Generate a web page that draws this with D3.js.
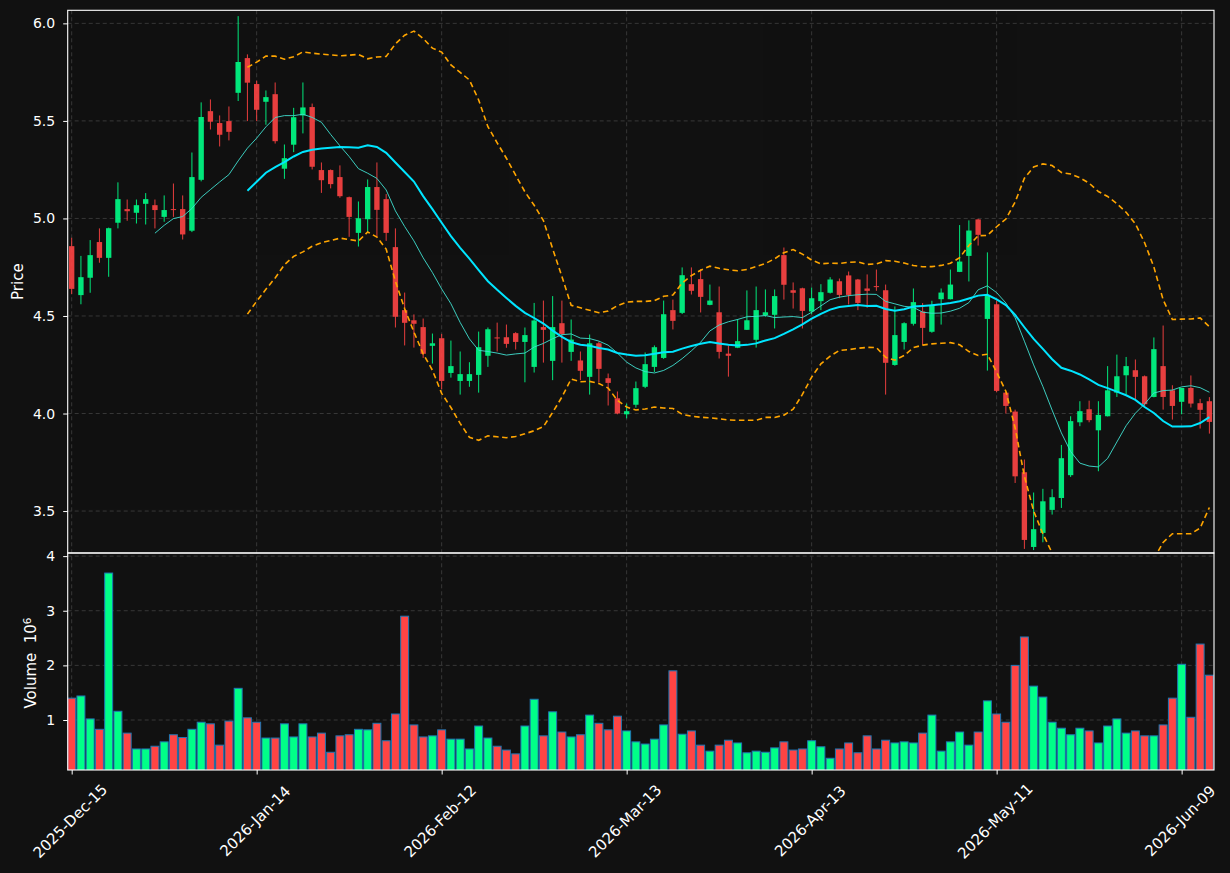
<!DOCTYPE html>
<html>
<head>
<meta charset="utf-8">
<script src="https://cdn.jsdelivr.net/npm/d3@7"></script>
<style>
html, body { margin: 0; padding: 0; background: #111111; }
svg text { font-family: "DejaVu Sans", sans-serif; fill: #ffffff; }
</style>
</head>
<body>
<div id="chart"></div>
<script>
// daily OHLC (trading days 2025-12-15 .. 2026-06-12)
var opens = [4.858,4.607,4.696,4.879,4.798,4.978,5.048,5.029,5.075,5.068,
  5.008,5.048,5.048,4.937,5.198,5.550,5.489,5.499,5.644,5.822,
  5.689,5.598,5.637,5.255,5.378,5.528,5.571,5.248,5.248,5.212,
  5.109,4.926,4.996,5.161,5.099,4.853,4.530,4.478,4.443,4.347,
  4.386,4.208,4.167,4.167,4.198,4.296,4.390,4.391,4.412,4.367,
  4.239,4.443,4.270,4.463,4.316,4.272,4.188,4.360,4.181,4.078,
  3.996,4.045,4.137,4.239,4.285,4.530,4.516,4.663,4.689,4.557,
  4.519,4.307,4.337,4.429,4.378,4.504,4.506,4.812,4.632,4.642,
  4.523,4.576,4.619,4.678,4.708,4.687,4.641,4.653,4.632,4.249,
  4.367,4.460,4.523,4.419,4.586,4.586,4.726,4.808,4.995,4.485,
  4.560,4.107,4.010,3.699,3.316,3.388,3.506,3.567,3.684,3.955,
  4.022,3.914,3.986,4.107,4.196,4.222,4.191,4.085,4.243,4.119,
  4.060,4.131,4.053,4.063];
var highs = [4.901,4.808,4.889,4.949,4.953,5.185,5.097,5.097,5.130,5.097,
  5.118,5.179,5.118,5.338,5.595,5.610,5.528,5.574,6.037,5.841,
  5.706,5.656,5.697,5.379,5.567,5.697,5.589,5.287,5.251,5.272,
  5.112,5.087,5.200,5.287,5.125,4.949,4.620,4.508,4.487,4.410,
  4.408,4.374,4.318,4.263,4.420,4.441,4.466,4.456,4.417,4.441,
  4.567,4.579,4.602,4.579,4.482,4.318,4.405,4.369,4.205,4.113,
  4.051,4.164,4.313,4.349,4.579,4.584,4.749,4.749,4.740,4.661,
  4.651,4.349,4.484,4.631,4.651,4.636,4.636,4.851,4.672,4.645,
  4.646,4.663,4.699,4.692,4.728,4.690,4.713,4.738,4.661,4.549,
  4.468,4.641,4.566,4.578,4.641,4.738,4.966,4.990,4.998,4.826,
  4.578,4.110,4.020,3.764,3.595,3.614,3.612,3.839,3.986,4.063,
  4.066,4.063,4.243,4.302,4.290,4.277,4.195,4.390,4.451,4.145,
  4.132,4.195,4.075,4.084];
var lows = [4.612,4.560,4.619,4.773,4.701,4.949,4.988,4.974,4.969,4.949,
  4.983,5.008,4.892,4.930,5.190,5.456,5.369,5.400,5.602,5.499,
  5.499,5.480,5.384,5.203,5.340,5.436,5.251,5.131,5.154,5.106,
  4.906,4.856,4.931,4.906,4.885,4.441,4.349,4.338,4.285,4.256,
  4.125,4.184,4.097,4.137,4.107,4.239,4.318,4.337,4.328,4.160,
  4.210,4.261,4.171,4.261,4.270,4.171,4.097,4.160,4.041,3.996,
  3.975,4.030,4.130,4.213,4.280,4.431,4.510,4.610,4.518,4.555,
  4.282,4.189,4.335,4.428,4.338,4.496,4.436,4.584,4.538,4.436,
  4.509,4.530,4.615,4.591,4.559,4.530,4.542,4.629,4.097,4.245,
  4.328,4.451,4.352,4.414,4.456,4.585,4.725,4.677,4.861,4.220,
  4.109,4.000,3.644,3.306,3.300,3.340,3.482,3.516,3.675,3.935,
  3.955,3.704,3.985,4.085,4.099,4.072,4.037,4.083,4.020,3.969,
  3.996,4.031,3.923,3.897];
var closes = [4.639,4.699,4.812,4.798,4.950,5.099,5.037,5.068,5.099,5.043,
  5.043,5.043,4.918,5.212,5.520,5.496,5.429,5.444,5.802,5.696,
  5.557,5.622,5.396,5.309,5.519,5.569,5.265,5.196,5.176,5.114,
  5.008,5.001,5.161,5.044,4.926,4.496,4.465,4.460,4.306,4.360,
  4.167,4.243,4.202,4.202,4.340,4.432,4.386,4.357,4.367,4.402,
  4.477,4.429,4.443,4.408,4.379,4.219,4.360,4.229,4.157,4.000,
  4.012,4.130,4.253,4.340,4.509,4.475,4.709,4.629,4.598,4.579,
  4.316,4.296,4.371,4.478,4.530,4.519,4.602,4.660,4.619,4.526,
  4.591,4.622,4.687,4.608,4.608,4.567,4.629,4.649,4.260,4.402,
  4.463,4.571,4.439,4.552,4.620,4.661,4.779,4.938,4.916,4.607,
  4.116,4.039,3.678,3.352,3.407,3.550,3.571,3.771,3.961,4.012,
  3.966,3.993,4.119,4.191,4.243,4.188,4.048,4.330,4.085,4.039,
  4.131,4.051,4.019,3.957];
// volume in millions
var volumes = [1.40,1.44,1.02,0.83,3.69,1.16,0.76,0.47,0.47,0.52,
  0.60,0.73,0.68,0.83,0.96,0.93,0.54,0.98,1.58,1.04,
  0.96,0.67,0.67,0.93,0.69,0.93,0.69,0.76,0.41,0.71,
  0.73,0.83,0.82,0.94,0.62,1.11,2.90,0.91,0.69,0.71,
  0.82,0.65,0.65,0.47,0.89,0.67,0.52,0.45,0.38,0.89,
  1.38,0.71,1.15,0.78,0.69,0.73,1.09,0.94,0.82,1.07,
  0.80,0.60,0.56,0.65,0.91,1.90,0.74,0.80,0.54,0.43,
  0.54,0.63,0.58,0.40,0.43,0.41,0.49,0.60,0.45,0.47,
  0.62,0.51,0.30,0.47,0.58,0.40,0.71,0.47,0.63,0.58,
  0.60,0.58,0.76,1.09,0.43,0.60,0.78,0.54,0.78,1.35,
  1.11,0.96,2.00,2.52,1.62,1.42,0.96,0.85,0.73,0.85,
  0.80,0.58,0.89,1.02,0.76,0.80,0.71,0.71,0.91,1.40,
  2.02,1.05,2.39,1.82];

var tickIdx = [0, 20, 40, 60, 80, 100, 120];
var tickLabels = ['2025-Dec-15', '2026-Jan-14', '2026-Feb-12', '2026-Mar-13',
  '2026-Apr-13', '2026-May-11', '2026-Jun-09'];
var priceTicks = [3.5, 4.0, 4.5, 5.0, 5.5, 6.0];
var volTicks = [1, 2, 3, 4];

var upColor = '#00ff88', downColor = '#ff4444';
var gridColor = '#3c3c3c';

var width = 1230, height = 873;
var left = 67.7, right = 1214;
var priceTop = 10.3, priceBottom = 553, volBottom = 770;

var svg = d3.select('#chart')
  .append('svg')
  .attr('width', width)
  .attr('height', height)
  .style('display', 'block')
  .style('background', '#111111');

var x = d3.scaleLinear().domain([-0.43, 123.5]).range([left, right]);
var y = d3.scaleLinear().domain([3.285, 6.067]).range([priceBottom, priceTop]);
var yv = d3.scaleLinear().domain([0.085, 4.057]).range([volBottom, priceBottom]);
var step = x(1) - x(0);

var defs = svg.append('defs');
defs.append('clipPath').attr('id', 'clipPrice')
  .append('rect')
  .attr('x', left).attr('y', priceTop)
  .attr('width', right - left).attr('height', priceBottom - priceTop);
defs.append('clipPath').attr('id', 'clipVol')
  .append('rect')
  .attr('x', left).attr('y', priceBottom)
  .attr('width', right - left).attr('height', volBottom - priceBottom);

// grids
var grid = svg.append('g')
  .attr('stroke', gridColor)
  .attr('stroke-width', 0.9)
  .attr('stroke-dasharray', '4,3')
  .attr('fill', 'none');
grid.selectAll('.hp').data(priceTicks).enter().append('line')
  .attr('x1', left).attr('x2', right)
  .attr('y1', function(d) { return y(d); })
  .attr('y2', function(d) { return y(d); });
grid.selectAll('.hv').data(volTicks).enter().append('line')
  .attr('x1', left).attr('x2', right)
  .attr('y1', function(d) { return yv(d); })
  .attr('y2', function(d) { return yv(d); });
grid.selectAll('.vx').data(tickIdx).enter().append('line')
  .attr('x1', function(d) { return x(d); })
  .attr('x2', function(d) { return x(d); })
  .attr('y1', priceTop).attr('y2', volBottom);

var idx = d3.range(closes.length);
function isUp(i) { return closes[i] >= opens[i]; }

// volume bars
svg.append('g')
  .attr('clip-path', 'url(#clipVol)')
  .selectAll('rect')
  .data(idx)
  .enter().append('rect')
  .attr('x', function(i) { return x(i) - step * 0.43; })
  .attr('y', function(i) { return yv(volumes[i]); })
  .attr('width', step * 0.86)
  .attr('height', function(i) { return yv(0) - yv(volumes[i]); })
  .attr('fill', function(i) { return isUp(i) ? upColor : downColor; })
  .attr('stroke', '#1f77b4')
  .attr('stroke-width', 1);

// candles
var candles = svg.append('g')
  .attr('clip-path', 'url(#clipPrice)')
  .attr('opacity', 0.9);
candles.selectAll('line')
  .data(idx)
  .enter().append('line')
  .attr('x1', function(i) { return x(i); })
  .attr('x2', function(i) { return x(i); })
  .attr('y1', function(i) { return y(highs[i]); })
  .attr('y2', function(i) { return y(lows[i]); })
  .attr('stroke', function(i) { return isUp(i) ? upColor : downColor; })
  .attr('stroke-width', 1);
candles.selectAll('rect')
  .data(idx)
  .enter().append('rect')
  .attr('x', function(i) { return x(i) - step * 0.29; })
  .attr('width', step * 0.58)
  .attr('y', function(i) { return y(Math.max(opens[i], closes[i])); })
  .attr('height', function(i) {
    return Math.max(1, Math.abs(y(opens[i]) - y(closes[i])));
  })
  .attr('fill', function(i) { return isUp(i) ? upColor : downColor; });

// moving averages and bollinger bands from the closes
function rolling(n, fn) {
  return idx.map(function(i) {
    if (i < n - 1) return null;
    return fn(closes.slice(i - n + 1, i + 1));
  });
}
function popStd(arr) {
  // population std (ddof = 0)
  return d3.deviation(arr) * Math.sqrt((arr.length - 1) / arr.length);
}
var ma10 = rolling(10, d3.mean);
var ma20 = rolling(20, d3.mean);
var sd20 = rolling(20, popStd);
var bbUpper = idx.map(function(i) { return ma20[i] == null ? null : ma20[i] + 2 * sd20[i]; });
var bbLower = idx.map(function(i) { return ma20[i] == null ? null : ma20[i] - 2 * sd20[i]; });

function linePath(arr) {
  return d3.line()
    .defined(function(i) { return arr[i] != null; })
    .x(function(i) { return x(i); })
    .y(function(i) { return y(arr[i]); })(idx);
}

var lines = svg.append('g').attr('clip-path', 'url(#clipPrice)').attr('fill', 'none');
lines.append('path').attr('d', linePath(ma10))
  .attr('stroke', '#40e0d0').attr('stroke-width', 1).attr('opacity', 0.9);
lines.append('path').attr('d', linePath(ma20))
  .attr('stroke', '#00e5ff').attr('stroke-width', 2);
lines.append('path').attr('d', linePath(bbUpper))
  .attr('stroke', '#ffa500').attr('stroke-width', 1.6).attr('stroke-dasharray', '5.5,3.5');
lines.append('path').attr('d', linePath(bbLower))
  .attr('stroke', '#ffa500').attr('stroke-width', 1.6).attr('stroke-dasharray', '5.5,3.5');

// frames
svg.append('rect')
  .attr('x', left).attr('y', priceTop)
  .attr('width', right - left).attr('height', priceBottom - priceTop)
  .attr('fill', 'none').attr('stroke', '#ffffff').attr('stroke-width', 1.1);
svg.append('rect')
  .attr('x', left).attr('y', priceBottom)
  .attr('width', right - left).attr('height', volBottom - priceBottom)
  .attr('fill', 'none').attr('stroke', '#ffffff').attr('stroke-width', 1.1);

// axes
function styleAxis(g) {
  g.select('.domain').remove();
  g.selectAll('line').attr('stroke', '#ffffff');
  g.selectAll('text').attr('fill', '#ffffff')
    .style('font-family', '"DejaVu Sans", sans-serif')
    .style('font-size', '14px');
}
svg.append('g')
  .attr('transform', 'translate(' + left + ',0)')
  .call(d3.axisLeft(y).tickValues(priceTicks).tickSize(4.5).tickPadding(8)
    .tickFormat(d3.format('.1f')))
  .call(styleAxis);
svg.append('g')
  .attr('transform', 'translate(' + left + ',0)')
  .call(d3.axisLeft(yv).tickValues(volTicks).tickSize(4.5).tickPadding(8)
    .tickFormat(d3.format('d')))
  .call(styleAxis);
var xAxisG = svg.append('g')
  .attr('transform', 'translate(0,' + volBottom + ')')
  .call(d3.axisBottom(x).tickValues(tickIdx).tickSize(4.5)
    .tickFormat(function(d, i) { return tickLabels[i]; }))
  .call(styleAxis);
xAxisG.selectAll('text')
  .attr('y', 0)
  .attr('dy', '0.35em')
  .attr('transform', 'translate(-2,51) rotate(-45)')
  .style('font-size', '15px')
  .style('text-anchor', 'middle');

// axis titles
svg.append('text')
  .attr('transform', 'translate(23,' + ((priceTop + priceBottom) / 2) + ') rotate(-90)')
  .attr('text-anchor', 'middle')
  .style('font-size', '15px')
  .text('Price');
var vLabel = svg.append('text')
  .attr('transform', 'translate(36,' + 663 + ') rotate(-90)')
  .attr('text-anchor', 'middle')
  .style('font-size', '15px');
vLabel.append('tspan').text('Volume\u00a0\u00a010');
vLabel.append('tspan').attr('dy', '-0.45em').style('font-size', '10.5px').text('6');
</script>
</body>
</html>
